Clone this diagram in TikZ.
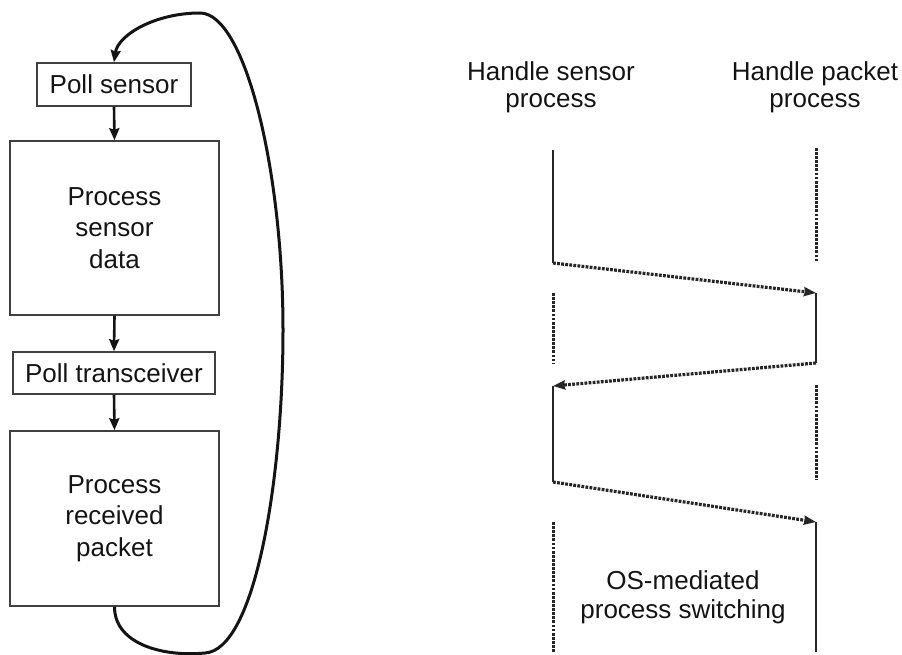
\documentclass[tikz,border=0pt]{standalone}
\usepackage{fontspec}
\setmainfont{Liberation Sans}
\usetikzlibrary{arrows.meta}
\begin{document}
\begin{tikzpicture}[x=1pt,y=-1pt,
  txt/.style={font=\fontsize{26}{31.5}\selectfont, text=black!92, align=center},
  box/.style={txt, draw=black!75, line width=1.5pt, inner sep=0pt},
  flow/.style={line width=2.6pt, draw=black!92, -{Stealth[length=12pt,width=10pt,inset=1.5pt]}},
  loopline/.style={line width=3pt, draw=black!92, -{Stealth[length=12pt,width=10pt,inset=1.5pt]}},
  active/.style={line width=1.7pt, draw=black!85},
  idle/.style={line width=3pt, draw=black!85, dash pattern=on 2.8pt off 1.3pt},
  switch/.style={line width=3.2pt, draw=black!85, dash pattern=on 2.8pt off 1.3pt,
                 -{Stealth[length=12pt,width=9pt,inset=1pt]}}]
\useasboundingbox (0,0) rectangle (902,655);

% ---- polling loop (left) ----
\node[box, minimum width=154pt, minimum height=43pt]  (ps)  at (114,84.5) {Poll sensor};
\node[box, minimum width=209pt, minimum height=174pt] (psd) at (114.5,228) {Process\\sensor\\data};
\node[box, minimum width=202pt, minimum height=42pt]  (pt)  at (114,373) {Poll transceiver};
\node[box, minimum width=209pt, minimum height=175pt] (prp) at (114.5,518.5) {Process\\received\\packet};

\draw[flow] (ps.south) -- (psd.north);
\draw[flow] (psd.south) -- (pt.north);
\draw[flow] (pt.south) -- (prp.north);

\draw[loopline] (prp.south) .. controls (114.5,645) and (165,657) .. (205,653)
  .. controls (255,650) and (283,480) .. (283,330)
  .. controls (283,170) and (245,13) .. (200,13)
  .. controls (155,13) and (118,35) .. (ps.north);

% ---- process switching (right) ----
\node[txt, font=\fontsize{26}{27}\selectfont] (hs) at (551,87) {Handle sensor\\process};
\node[txt, font=\fontsize{26}{27}\selectfont] (hp) at (815,87) {Handle packet\\process};
\node[txt, font=\fontsize{26}{29}\selectfont] (os) at (683,597) {OS-mediated\\process switching};

\coordinate (l0) at (553,150);
\coordinate (l1) at (553,263);
\coordinate (l2) at (553,293);
\coordinate (l3) at (553,363);
\coordinate (l4) at (553,386);
\coordinate (l5) at (553,482);
\coordinate (l6) at (553,522);
\coordinate (l7) at (553,653);
\coordinate (r0) at (816,148);
\coordinate (r1) at (816,261);
\coordinate (r2) at (816,293);
\coordinate (r3) at (816,363);
\coordinate (r4) at (816,385);
\coordinate (r5) at (816,480);
\coordinate (r6) at (816,522);
\coordinate (r7) at (816,652);

\draw[active] (l0) -- (l1);
\draw[idle]   (r0) -- (r1);
\draw[switch] (l1) -- (r2);
\draw[idle]   (l2) -- (l3);
\draw[active] (r2) -- (r3);
\draw[switch] (r3) -- (l4);
\draw[active] (l4) -- (l5);
\draw[idle]   (r4) -- (r5);
\draw[switch] (l5) -- (r6);
\draw[idle]   (l6) -- (l7);
\draw[active] (r6) -- (r7);
\end{tikzpicture}
\end{document}
